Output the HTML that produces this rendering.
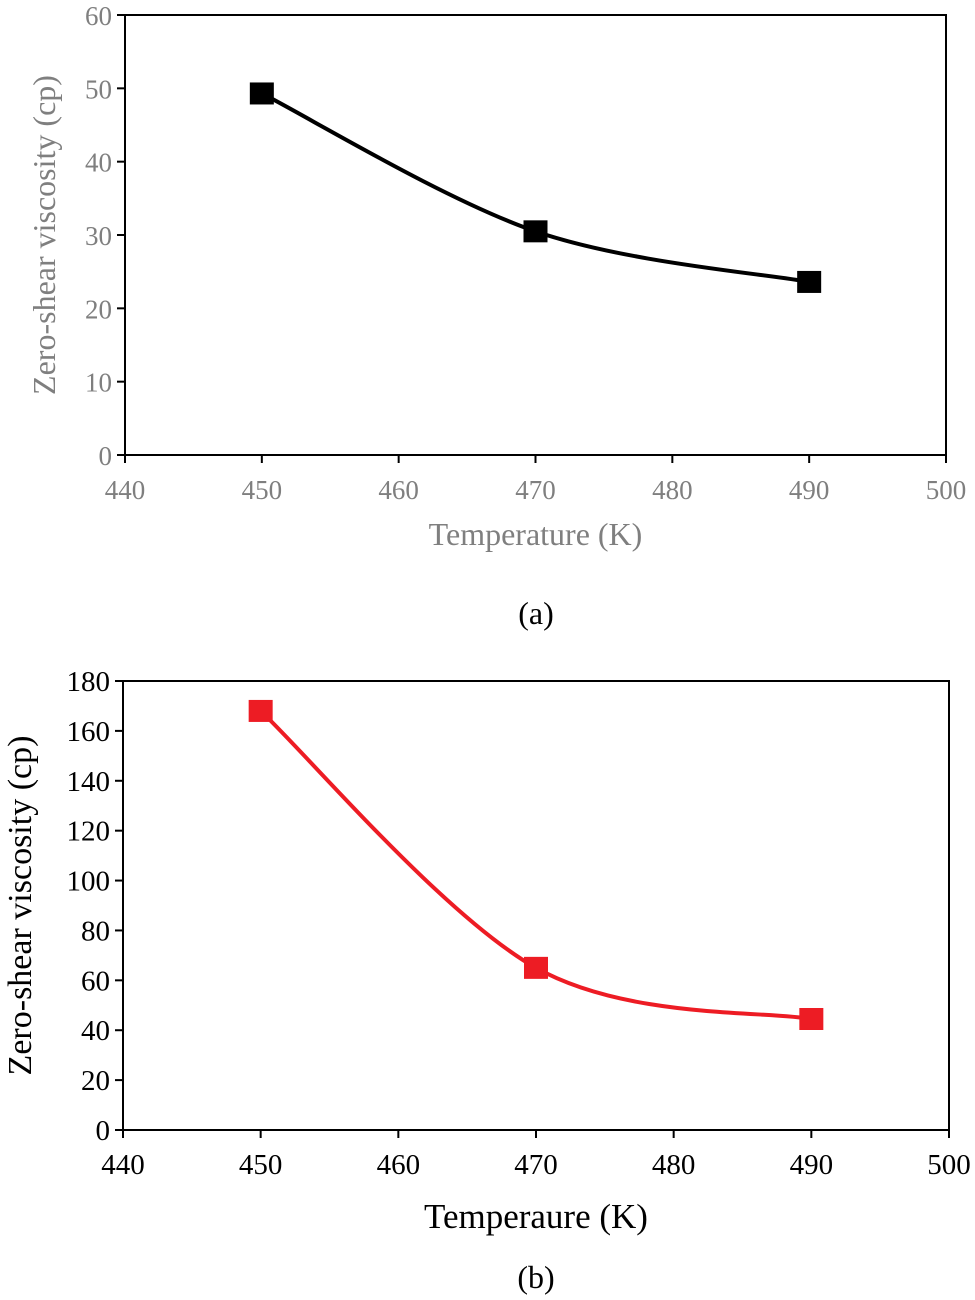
<!DOCTYPE html>
<html><head><meta charset="utf-8"><style>
body{margin:0;background:#fff}
svg{display:block;font-family:"Liberation Serif",serif}
</style></head><body>
<svg id="s" width="975" height="1300"></svg>
<script>
const tempsA=[450,470,490];
const viscA=[49.3,30.5,23.6];
const tempsB=[450,470,490];
const viscB=[168,65,44.5];
const xTicks=[440,450,460,470,480,490,500];
const yTicksA=[0,10,20,30,40,50,60];
const yTicksB=[0,20,40,60,80,100,120,140,160,180];
const NS="http://www.w3.org/2000/svg";
const svg=document.getElementById('s');
function mk(t,a,p){const e=document.createElementNS(NS,t);for(const k in a)e.setAttribute(k,a[k]);(p||svg).appendChild(e);return e;}
function chart(cfg){
  const g=mk('g',{});
  
  
  const sx=v=>cfg.L+(v-440)/60*(cfg.R-cfg.L);
  const sy=v=>cfg.B-(v-0)/cfg.ymax*(cfg.B-cfg.T);
  const f=mk('rect',{x:cfg.L,y:cfg.T,width:cfg.R-cfg.L,height:cfg.B-cfg.T,fill:'none',stroke:'#000','stroke-width':2},g);
  
  xTicks.forEach(v=>{
    mk('line',{x1:sx(v),x2:sx(v),y1:cfg.B,y2:cfg.B+8,stroke:'#000','stroke-width':2},g);
    const t=mk('text',{x:sx(v),y:cfg.B+44,'text-anchor':'middle','font-size':cfg.tfs,fill:cfg.tc},g);
    t.textContent=v;
  });
  cfg.yt.forEach(v=>{
    mk('line',{x1:cfg.L-8,x2:cfg.L,y1:sy(v),y2:sy(v),stroke:'#000','stroke-width':2},g);
    const t=mk('text',{x:cfg.L-13,y:sy(v)+10,'text-anchor':'end','font-size':cfg.tfs,fill:cfg.tc},g);
    t.textContent=v;
  });
  const xt=mk('text',{x:(cfg.L+cfg.R)/2,y:cfg.xty,'text-anchor':'middle','font-size':cfg.xfs,fill:cfg.tc},g);
  xt.textContent=cfg.xlab;
  const yt=mk('text',{x:0,y:0,'text-anchor':'middle','font-size':cfg.yfs,fill:cfg.tc,transform:`translate(${cfg.ytx},${(cfg.T+cfg.B)/2}) rotate(-90)`},g);
  yt.textContent='Zero-shear viscosity (cp)';
  const P=cfg.xs.map((x,i)=>[sx(x),sy(cfg.ys[i])]);
  let d=`M${P[0][0]},${P[0][1]}`;
  for(let i=0;i<P.length-1;i++){
    const p0=P[Math.max(0,i-1)],p1=P[i],p2=P[i+1],p3=P[Math.min(P.length-1,i+2)];
    const k=1/6;
    d+=` C${p1[0]+(p2[0]-p0[0])*k},${p1[1]+(p2[1]-p0[1])*k} ${p2[0]-(p3[0]-p1[0])*k},${p2[1]-(p3[1]-p1[1])*k} ${p2[0]},${p2[1]}`;
  }
  const ln=mk('path',{d:d,fill:'none',stroke:cfg.col,'stroke-width':4},g);
  
  P.forEach(p=>{
    const r=mk('rect',{x:p[0]-12,y:p[1]-11,width:24,height:22,fill:cfg.col},g);
    
  });
  const c=mk('text',{x:536,y:cfg.cy,'text-anchor':'middle','font-size':32,fill:'#000'},g);
  c.textContent=cfg.cap;
}
chart({name:'chart-a',L:125,R:946,T:15,B:455,ymax:60,yt:yTicksA,xs:tempsA,ys:viscA,col:'#000',tc:'#7f7f7f',xlab:'Temperature (K)',xty:545,ytx:55,tfs:27,xfs:32,yfs:32,cap:'(a)',cy:624});
chart({name:'chart-b',L:123,R:949,T:681,B:1130,ymax:180,yt:yTicksB,xs:tempsB,ys:viscB,col:'#ed1c24',tc:'#000',xlab:'Temperaure (K)',xty:1228,ytx:31,tfs:29,xfs:35,yfs:34,cap:'(b)',cy:1288});
</script>
</body></html>
